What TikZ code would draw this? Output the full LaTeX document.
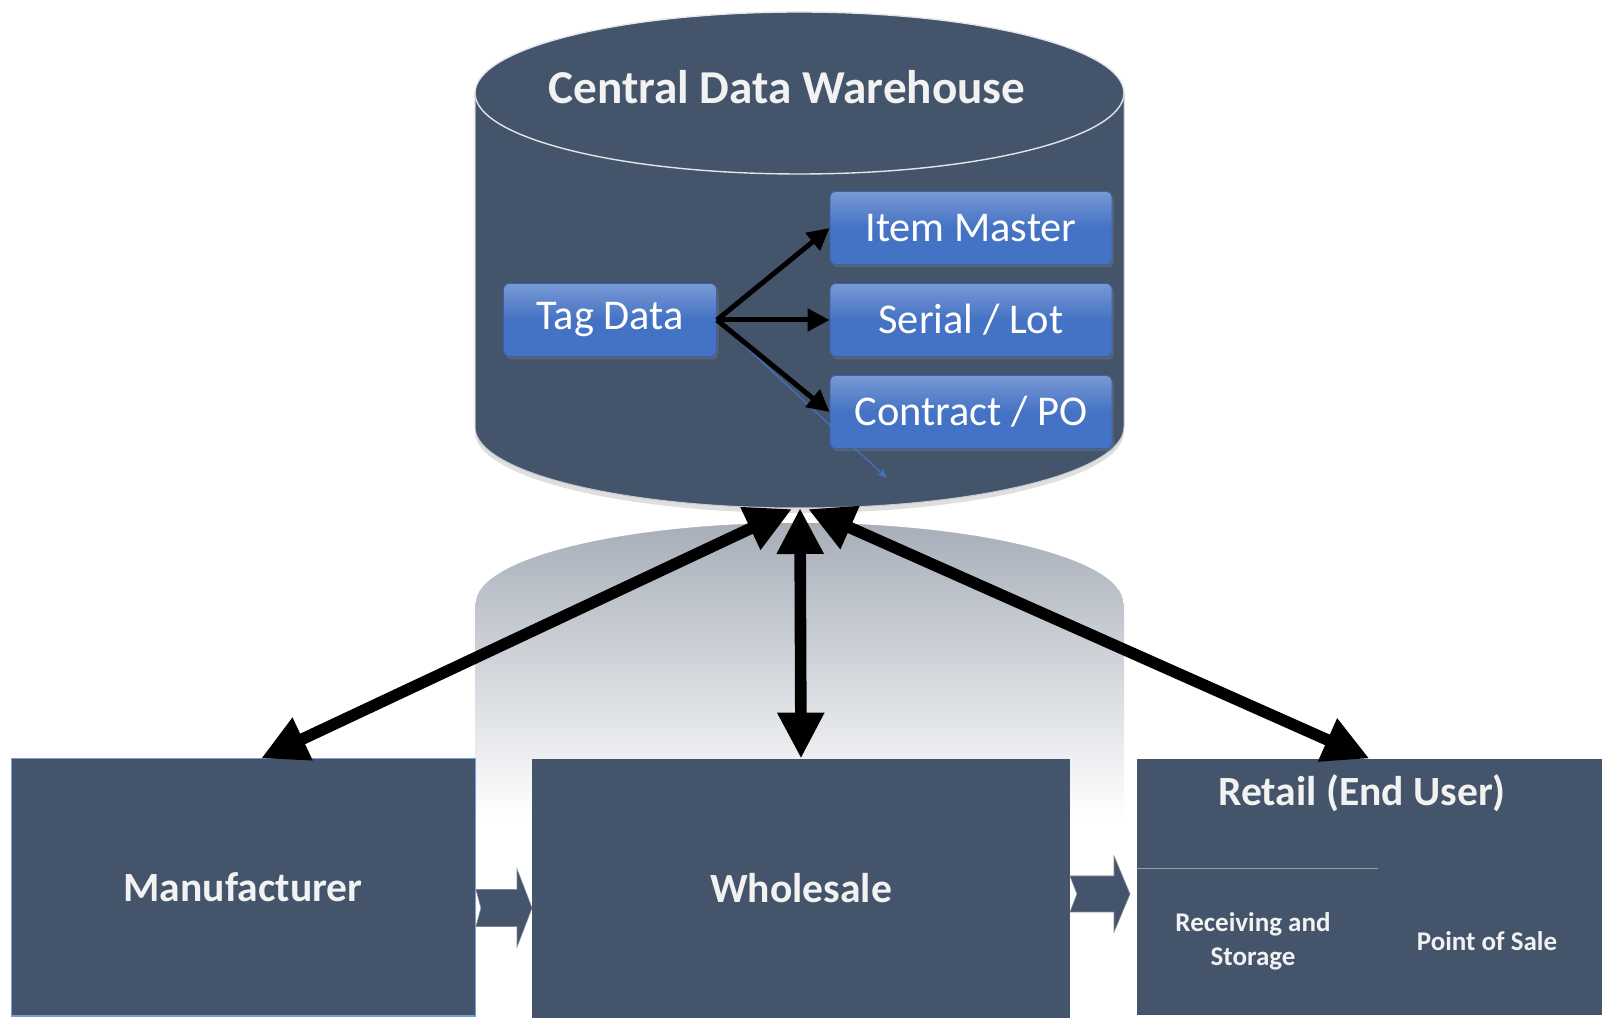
\documentclass[tikz,border=0pt]{standalone}
\usepackage{fontspec}
\setmainfont{Carlito}
\usetikzlibrary{arrows.meta,shadows,calc}

\definecolor{slate}{HTML}{44546A}
\definecolor{tagblue}{HTML}{4472C4}
\definecolor{lighttext}{HTML}{F2F2F2}
\definecolor{mirror}{HTML}{A7AEB9}

\tikzset{
  stage/.style={fill=slate,text=lighttext,inner sep=0pt,
    font=\fontsize{20.8}{25}\selectfont\bfseries},
  datatable/.style={rounded corners=3pt,minimum width=141pt,minimum height=36.5pt,
    top color=tagblue!72!white,bottom color=tagblue,middle color=tagblue,
    draw=tagblue!85!black,line width=0.4pt,text=white,inner sep=0pt,
    drop shadow={shadow xshift=1pt,shadow yshift=-1.5pt,opacity=.35},
    font=\fontsize{21.2}{25}\selectfont},
  bigarrow/.style={line width=5.8pt,
    {Triangle[length=23pt,width=22pt]}-{Triangle[length=23pt,width=22pt]}},
  chevron/.style={fill=slate,draw=slate!70!white,line width=0.3pt}
}

\begin{document}
\begin{tikzpicture}[x=0.5pt,y=0.5pt]
\useasboundingbox (0,0) rectangle (1602,1018);

% reflection under the warehouse
\shade[top color=mirror,bottom color=white]
  (475,415) arc[start angle=180,end angle=0,x radius=162.25pt,y radius=40.5pt]
  -- (1124,200) -- (475,200) -- cycle;
\draw[white,line width=0.8pt]
  (475,415) arc[start angle=180,end angle=0,x radius=162.25pt,y radius=40.5pt];

% warehouse cylinder
\fill[slate,drop shadow={shadow xshift=0pt,shadow yshift=-2.5pt,opacity=.25}]
  (475,925) -- (475,591) arc[start angle=180,end angle=360,x radius=162.25pt,y radius=40.5pt]
  -- (1124,925) arc[start angle=0,end angle=180,x radius=162.25pt,y radius=40.5pt] -- cycle;
\draw[white!85!slate,line width=0.7pt] (799.5,925) ellipse[x radius=162.25pt,y radius=40.5pt];
\draw[white!70!slate,line width=0.5pt]
  (475,925) -- (475,591) arc[start angle=180,end angle=360,x radius=162.25pt,y radius=40.5pt]
  -- (1124,925);

\node[text=lighttext,font=\fontsize{23.6}{28}\selectfont\bfseries] (cdw) at (787,931)
  {Central Data Warehouse};

\node[datatable,minimum width=106.5pt] (tag) at (610,698) {Tag Data};
\node[datatable] (item) at (971,790) {Item Master};
\node[datatable] (serial) at (971,698) {Serial / Lot};
\node[datatable] (contract) at (971,606) {Contract / PO};

\coordinate (stray) at (887,540);
\draw[tagblue,line width=0.6pt,-{Stealth[length=5pt,width=4pt]}] (tag.east) -- (stray);

\foreach \t in {item,serial,contract}
  \draw[line width=2.5pt,-{Triangle[length=11pt,width=11pt]}] (tag.east) -- (\t.west);

% supply chain stages
\node[stage,minimum width=232pt,minimum height=128.5pt,draw=tagblue!70!white,line width=0.5pt]
  (manu) at (243,130.5) {Manufacturer};
\node[stage,minimum width=269pt,minimum height=129.5pt] (whole) at (801,129.5) {Wholesale};
\node[stage,minimum width=232.5pt,minimum height=128pt] (retail) at (1369.5,131) {};

\node[text=lighttext,font=\fontsize{20.8}{25}\selectfont\bfseries] (rtitle) at (1362,225)
  {Retail (End User)};
\draw[slate!55!white,line width=0.5pt] (retail.west |- 0,149) -- (1378,149);
\node[text=lighttext,align=center,font=\fontsize{13.5}{17}\selectfont\bfseries] (recv) at (1253,77)
  {Receiving and\\Storage};
\node[text=lighttext,font=\fontsize{13.5}{17}\selectfont\bfseries] (pos) at (1487,77)
  {Point of Sale};

\filldraw[chevron] (476,128.5) -- (517,128.5) -- (517,149) -- (532,110) -- (517,71)
  -- (517,91.5) -- (476,91.5) -- (481,110) -- cycle;
\filldraw[chevron] (1070,142) -- (1114,142) -- (1114,162) -- (1130,124) -- (1114,86)
  -- (1114,106) -- (1070,106) -- (1077,124) -- cycle;

% links to the warehouse
\coordinate (cdwL) at (792,509);
\coordinate (cdwM) at (800,510);
\coordinate (cdwR) at (808,509);
\draw[bigarrow] (cdwL) -- ($(manu.north)+(18,0)$);
\draw[bigarrow] (cdwM) -- (whole.north);
\draw[bigarrow] (cdwR) -- (retail.north);

\end{tikzpicture}
\end{document}
